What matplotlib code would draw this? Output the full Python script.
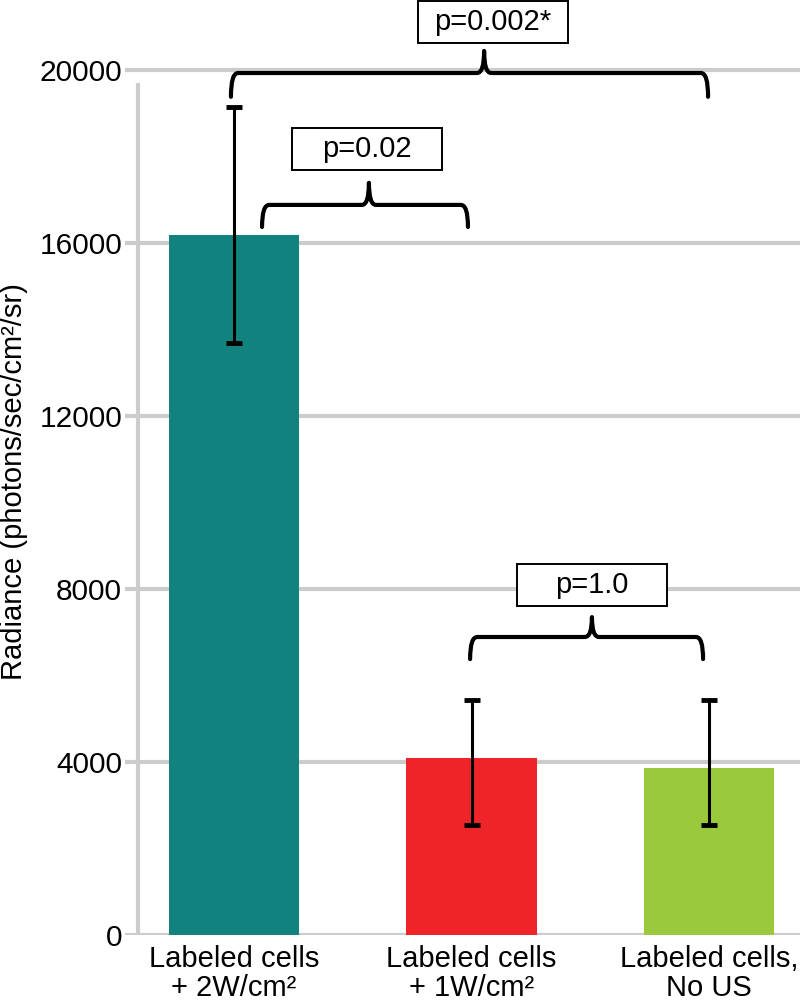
import numpy as np
import matplotlib.pyplot as plt
from matplotlib.path import Path
from matplotlib.patches import PathPatch, Rectangle

plt.rcParams['font.family'] = ['Liberation Sans', 'DejaVu Sans']

# Data
labels = ["Labeled cells\n+ 2W/cm\u00b2", "Labeled cells\n+ 1W/cm\u00b2", "Labeled cells,\nNo US"]
means = np.array([16180, 4090, 3860])
err_lo = np.array([13690, 2540, 2540])   # lower end of error bar
err_hi = np.array([19150, 5430, 5430])   # upper end of error bar
colors = ["#12827E", "#EE2428", "#9BC93D"]
p_texts = ["p=0.02", "p=0.002*", "p=1.0"]

GRID = "#cccccc"

fig = plt.figure(figsize=(8, 10), dpi=100)
ax = fig.add_axes([0.15625, 0.065, 0.84375, 0.935])

x = np.arange(len(means))
ax.bar(x, means, width=0.55, color=colors, zorder=2)
yerr = np.vstack([means - err_lo, err_hi - means])
ax.errorbar(x, means, yerr=yerr, fmt="none", ecolor="black", elinewidth=2.2,
            capsize=6, capthick=3.5, zorder=3)

ax.set_xlim(-0.459, 2.383)
ax.set_ylim(0, 21618)
ax.set_yticks(np.arange(0, 20001, 4000))
ax.set_xticks(x)
ax.set_xticklabels(labels, fontsize=21, linespacing=1.05)
ax.tick_params(axis="y", length=0, pad=2, labelsize=21.5)
ax.tick_params(axis="x", length=0, pad=7)
for s in ax.spines.values():
    s.set_visible(False)
ax.set_axisbelow(True)
ax.yaxis.grid(True, color=GRID, linewidth=3)
# left axis line, stops short of the top gridline
ax.vlines(-0.404, 0, 19700, color=GRID, linewidth=3, zorder=1)

fig.text(0.017, 0.518, "Radiance (photons/sec/cm\u00b2/sr)", rotation=90,
         ha="center", va="center", fontsize=21)


def brace(x0, x1, xt, y, yend, ytip, rx=0.03, rt=0.03):
    verts = [(x0, yend), (x0, y), (x0 + rx, y),
             (xt - rt, y),
             (xt, y), (xt, ytip),
             (xt, y), (xt + rt, y),
             (x1 - rx, y),
             (x1, y), (x1, yend)]
    codes = [Path.MOVETO, Path.CURVE3, Path.CURVE3,
             Path.LINETO,
             Path.CURVE3, Path.CURVE3,
             Path.CURVE3, Path.CURVE3,
             Path.LINETO,
             Path.CURVE3, Path.CURVE3]
    ax.add_patch(PathPatch(Path(verts, codes), fill=False, edgecolor="black",
                           linewidth=3, capstyle="round", joinstyle="round",
                           clip_on=False, zorder=4))


def pbox(xc, yc, text):
    w, h = 0.632, 970
    ax.add_patch(Rectangle((xc - w / 2, yc - h / 2), w, h, facecolor="white",
                           edgecolor="black", linewidth=1.4, clip_on=False, zorder=4))
    ax.text(xc, yc, text, ha="center", va="center", fontsize=21, zorder=5)


# brackets: (left, right, tip, level, end, tip top)
brace(0.118, 0.985, 0.568, 16880, 16370, 17390)
brace(-0.013, 1.996, 1.053, 19930, 19380, 20440)
brace(0.994, 1.975, 1.507, 6890, 6380, 7350)

pbox(0.56, 18170, p_texts[0])
pbox(1.09, 21110, p_texts[1])
pbox(1.507, 8090, p_texts[2])

fig.savefig("out.png", dpi=100)
